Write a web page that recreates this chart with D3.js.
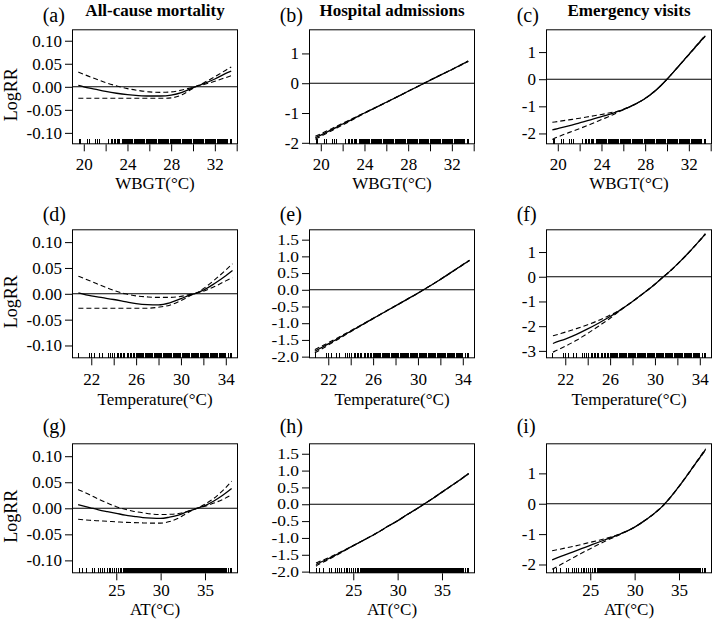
<!DOCTYPE html>
<html><head><meta charset="utf-8">
<script src="https://cdn.jsdelivr.net/npm/d3@7"></script>
<style>
body{margin:0;background:#fff}
svg{display:block}
text{font-family:"Liberation Serif","Times New Roman",serif;fill:#000}
</style>
</head><body>
<svg id="chart" width="714" height="623"></svg>
<script>
// ---------- titles / labels ----------
const colTitles = ["All-cause mortality", "Hospital admissions", "Emergency visits"];
const panelTags = ["(a)","(b)","(c)","(d)","(e)","(f)","(g)","(h)","(i)"];
const rowXTitles = ["WBGT(°C)", "Temperature(°C)", "AT(°C)"];

// ---------- x axes (per row) ----------
const rowXDomains = [[18.92, 34.12], [20.28, 35.09], [20.01, 38.72]];
const rowXTicks = [[20,22,24,26,28,30,32,34],[22,24,26,28,30,32,34],[25,30,35]];
const rowXLabels = [["20","","24","","28","","32",""],["22","","26","","30","","34"],["25","30","35"]];

// ---------- y axes ----------
const mortYTicks = [-0.10,-0.05,0,0.05,0.10];
const mortYLabels = ["-0.10","-0.05","0.00","0.05","0.10"];
const hospBYTicks = [-2,-1,0,1];
const hospBYLabels = ["-2","-1","0","1"];
const hospYTicks = [-2,-1.5,-1,-0.5,0,0.5,1,1.5];
const hospYLabels = ["-2.0","-1.5","-1.0","-0.5","0.0","0.5","1.0","1.5"];
const emerCYTicks = [-2,-1,0,1];
const emerCYLabels = ["-2","-1","0","1"];
const emerFYTicks = [-3,-2,-1,0,1];
const emerFYLabels = ["-3","-2","-1","0","1"];
const emerIYTicks = [-2,-1,0,1];
const emerIYLabels = ["-2","-1","0","1"];

// ---------- curves ----------
// (a) WBGT, all-cause mortality
const aX   = [19.5,20,21,22,23,24,25,26,27,28,29,30,30.2,31,32,33,33.5];
const aEst = [0.003,0.000,-0.005,-0.010,-0.014,-0.017,-0.019,-0.020,-0.020,-0.018,-0.012,-0.002,0,0.007,0.017,0.029,0.034];
const aHi  = [0.032,0.027,0.018,0.009,0.002,-0.004,-0.008,-0.011,-0.012,-0.011,-0.007,-0.001,0,0.009,0.022,0.036,0.043];
const aLo  = [-0.025,-0.025,-0.025,-0.025,-0.025,-0.025,-0.025,-0.025,-0.025,-0.024,-0.017,-0.003,0,0.005,0.012,0.020,0.024];
// (b) WBGT, hospital admissions
const bX   = [19.5,20,21,22,23,24,26,28,29.47,30,32,33.5];
const bEst = [-1.83,-1.74,-1.56,-1.37,-1.19,-1.00,-0.64,-0.27,0,0.10,0.46,0.74];
const bHi  = [-1.78,-1.695,-1.525,-1.34,-1.17,-0.99,-0.635,-0.267,0,0.103,0.465,0.748];
const bLo  = [-1.88,-1.785,-1.595,-1.40,-1.21,-1.01,-0.645,-0.273,0,0.097,0.455,0.732];
// (c) WBGT, emergency visits
const cX   = [19.5,20,21,22,23,24,25,25.5,26,27,28,29,30,31,32,33,33.5];
const cEst = [-1.87,-1.82,-1.72,-1.61,-1.50,-1.38,-1.26,-1.19,-1.12,-0.94,-0.71,-0.40,0,0.45,0.91,1.37,1.60];
const cHi  = [-1.59,-1.56,-1.50,-1.44,-1.37,-1.30,-1.22,-1.18,-1.11,-0.935,-0.705,-0.397,0,0.455,0.92,1.385,1.62];
const cLo  = [-2.22,-2.13,-1.97,-1.82,-1.66,-1.49,-1.32,-1.22,-1.13,-0.945,-0.715,-0.403,0,0.445,0.90,1.355,1.58];
// (d) Temperature, all-cause mortality
const dX   = [20.85,22,23,24,25,26,27,28,29,30,31,31.2,32,33,34,34.6];
const dEst = [0.002,-0.004,-0.0075,-0.011,-0.015,-0.019,-0.021,-0.0214,-0.0175,-0.0095,-0.001,0,0.007,0.020,0.035,0.045];
const dHi  = [0.034,0.024,0.015,0.0065,0.000,-0.004,-0.006,-0.007,-0.007,-0.005,-0.0005,0,0.010,0.027,0.046,0.058];
const dLo  = [-0.028,-0.028,-0.028,-0.028,-0.028,-0.028,-0.028,-0.026,-0.022,-0.013,-0.002,0,0.005,0.014,0.025,0.031];
// (e) Temperature, hospital admissions
const eX   = [20.8,22,24,26,28,30,30.5,32,34,34.6];
const eEst = [-1.84,-1.62,-1.24,-0.86,-0.48,-0.10,0,0.31,0.75,0.88];
const eHi  = [-1.79,-1.585,-1.225,-0.852,-0.476,-0.098,0,0.313,0.756,0.888];
const eLo  = [-1.89,-1.655,-1.255,-0.868,-0.484,-0.102,0,0.307,0.744,0.872];
// (f) Temperature, emergency visits
const fX   = [20.9,21,22,23,24,25,26,26.6,27,28,29,30,30.76,31,32,33,34,34.5];
const fEst = [-2.70,-2.68,-2.52,-2.33,-2.11,-1.87,-1.61,-1.44,-1.32,-1.00,-0.66,-0.30,0,0.09,0.51,0.97,1.47,1.73];
const fHi  = [-2.39,-2.38,-2.24,-2.10,-1.94,-1.76,-1.55,-1.42,-1.31,-0.995,-0.655,-0.297,0,0.093,0.515,0.978,1.48,1.745];
const fLo  = [-3.05,-3.03,-2.81,-2.57,-2.29,-1.99,-1.68,-1.47,-1.33,-1.005,-0.665,-0.303,0,0.087,0.505,0.962,1.46,1.715];
// (g) AT, all-cause mortality
const gX   = [20.7,22,23,24,25,26,27,28,29,30,31,32,33,34.1,35,36,37,38];
const gEst = [0.007,0.0015,-0.003,-0.0065,-0.0097,-0.013,-0.0155,-0.0178,-0.019,-0.0195,-0.017,-0.013,-0.0065,0,0.005,0.014,0.025,0.038];
const gHi  = [0.036,0.026,0.0175,0.010,0.003,-0.002,-0.006,-0.0085,-0.011,-0.012,-0.0115,-0.010,-0.006,0,0.008,0.019,0.034,0.052];
const gLo  = [-0.021,-0.023,-0.024,-0.025,-0.026,-0.027,-0.0275,-0.028,-0.0285,-0.0285,-0.0255,-0.019,-0.009,0,0.004,0.010,0.017,0.026];
// (h) AT, hospital admissions
const hX   = [20.8,21,22,23,24,25,26,27,28,29,30,31,32,32.95,34,35,36,37,38];
const hEst = [-1.79,-1.76,-1.64,-1.51,-1.37,-1.23,-1.09,-0.95,-0.80,-0.64,-0.49,-0.32,-0.16,0,0.18,0.36,0.54,0.72,0.91];
const hHi  = [-1.74,-1.72,-1.61,-1.49,-1.36,-1.225,-1.087,-0.948,-0.798,-0.639,-0.489,-0.319,-0.159,0,0.182,0.363,0.544,0.725,0.915];
const hLo  = [-1.84,-1.80,-1.67,-1.53,-1.38,-1.235,-1.093,-0.952,-0.802,-0.641,-0.491,-0.321,-0.161,0,0.178,0.357,0.536,0.715,0.905];
// (i) AT, emergency visits
const iX   = [20.7,22,23,24,25,26,27,28,29,30,31,32,33,33.4,34,35,36,37,38];
const iEst = [-1.85,-1.70,-1.59,-1.48,-1.37,-1.26,-1.15,-1.04,-0.92,-0.77,-0.58,-0.37,-0.12,0,0.20,0.57,0.97,1.38,1.79];
const iHi  = [-1.55,-1.47,-1.41,-1.34,-1.27,-1.20,-1.12,-1.03,-0.915,-0.767,-0.577,-0.367,-0.117,0,0.205,0.577,0.98,1.395,1.81];
const iLo  = [-2.16,-1.95,-1.79,-1.63,-1.48,-1.33,-1.19,-1.06,-0.925,-0.773,-0.583,-0.373,-0.123,0,0.195,0.563,0.96,1.365,1.77];

// ---------- rug (observed exposure values) ----------
const wbgtRug = [19.6,19.7,20.3,20.5,21.1,21.3,21.4,22.3,22.5,22.6,22.8,22.9,23.1,23.2,23.3,23.5,23.6,23.7,23.8,23.9,
 24.0,24.1,24.2,24.3,24.4,24.5,24.6,24.7,24.8,24.9,25.0,25.1,25.2,25.3,25.4,25.5,25.6,25.7,25.8,25.9,
 26.0,26.1,26.2,26.3,26.4,26.5,26.6,26.7,26.8,26.9,27.0,27.1,27.2,27.3,27.4,27.5,27.6,27.7,27.8,27.9,
 28.0,28.1,28.2,28.3,28.4,28.5,28.6,28.7,28.8,28.9,29.0,29.1,29.2,29.3,29.4,29.5,29.6,29.7,29.8,29.9,
 30.0,30.1,30.2,30.3,30.4,30.5,30.6,30.7,30.8,30.9,31.0,31.1,31.2,31.3,31.4,31.5,31.6,31.7,31.8,31.9,
 32.0,32.1,32.2,32.3,32.4,32.5,32.6,32.7,32.8,32.9,33.0,33.1,33.2,33.4,33.5];
const tempRug = [20.9,21.8,22.0,22.3,22.7,23.0,23.5,23.7,23.9,24.1,24.3,24.4,24.6,24.7,24.9,25.0,25.2,25.3,25.5,25.6,25.8,25.9,
 26.0,26.1,26.2,26.3,26.4,26.5,26.6,26.7,26.8,26.9,27.0,27.1,27.2,27.3,27.4,27.5,27.6,27.7,27.8,27.9,
 28.0,28.1,28.2,28.3,28.4,28.5,28.6,28.7,28.8,28.9,29.0,29.1,29.2,29.3,29.4,29.5,29.6,29.7,29.8,29.9,
 30.0,30.1,30.2,30.3,30.4,30.5,30.6,30.7,30.8,30.9,31.0,31.1,31.2,31.3,31.4,31.5,31.6,31.7,31.8,31.9,
 32.0,32.1,32.2,32.3,32.4,32.5,32.6,32.7,32.8,32.9,33.0,33.1,33.2,33.3,33.4,33.5,33.6,33.7,33.8,33.9,
 34.0,34.2,34.4,34.5];
const atRug = [20.8,21.2,21.6,22.3,22.6,23.0,23.2,23.5,23.7,24.0,24.2,24.4,24.6,24.8,25.0,25.2,25.3,25.5,25.6,25.8,25.9,
 26.0,26.1,26.2,26.3,26.4,26.5,26.6,26.7,26.8,26.9,27.0,27.1,27.2,27.3,27.4,27.5,27.6,27.7,27.8,27.9,
 28.0,28.1,28.2,28.3,28.4,28.5,28.6,28.7,28.8,28.9,29.0,29.1,29.2,29.3,29.4,29.5,29.6,29.7,29.8,29.9,
 30.0,30.1,30.2,30.3,30.4,30.5,30.6,30.7,30.8,30.9,31.0,31.1,31.2,31.3,31.4,31.5,31.6,31.7,31.8,31.9,
 32.0,32.1,32.2,32.3,32.4,32.5,32.6,32.7,32.8,32.9,33.0,33.1,33.2,33.3,33.4,33.5,33.6,33.7,33.8,33.9,
 34.0,34.1,34.2,34.3,34.4,34.5,34.6,34.7,34.8,34.9,35.0,35.1,35.2,35.3,35.4,35.5,35.6,35.7,35.8,35.9,
 36.0,36.1,36.2,36.3,36.4,36.5,36.6,36.7,36.8,36.9,37.0,37.1,37.2,37.3,37.4,37.6,37.9,38.0];
const rowRugs = [wbgtRug, tempRug, atRug];

// ---------- panel table built from arrays ----------
const panels = [
 {tag:0,row:0,col:0,x:aX,est:aEst,hi:aHi,lo:aLo,yd:[-0.1248,0.1248],yt:mortYTicks,yl:mortYLabels},
 {tag:1,row:0,col:1,x:bX,est:bEst,hi:bHi,lo:bLo,yd:[-2.05,1.81],yt:hospBYTicks,yl:hospBYLabels},
 {tag:2,row:0,col:2,x:cX,est:cEst,hi:cHi,lo:cLo,yd:[-2.40,1.84],yt:emerCYTicks,yl:emerCYLabels},
 {tag:3,row:1,col:0,x:dX,est:dEst,hi:dHi,lo:dLo,yd:[-0.1248,0.1248],yt:mortYTicks,yl:mortYLabels},
 {tag:4,row:1,col:1,x:eX,est:eEst,hi:eHi,lo:eLo,yd:[-2.05,1.81],yt:hospYTicks,yl:hospYLabels,small:true},
 {tag:5,row:1,col:2,x:fX,est:fEst,hi:fHi,lo:fLo,yd:[-3.30,1.92],yt:emerFYTicks,yl:emerFYLabels},
 {tag:6,row:2,col:0,x:gX,est:gEst,hi:gHi,lo:gLo,yd:[-0.1248,0.1248],yt:mortYTicks,yl:mortYLabels},
 {tag:7,row:2,col:1,x:hX,est:hEst,hi:hHi,lo:hLo,yd:[-2.05,1.81],yt:hospYTicks,yl:hospYLabels,small:true},
 {tag:8,row:2,col:2,x:iX,est:iEst,hi:iHi,lo:iLo,yd:[-2.29,1.99],yt:emerIYTicks,yl:emerIYLabels}
];

// ---------- layout ----------
const FONT = '"Liberation Serif","Times New Roman",serif';
const colLeft = [72, 309, 546], boxW = 166;
const rowTop = [29.3, 229.3, 443.3], rowH = [115, 129, 130];
const tagBase = [22, 221, 433];
const xTickBase = [170, 385.5, 596];
const xTitleBase = [189, 404.5, 615];
const tickLen = 7;

const svg = d3.select("#chart");
svg.append("rect").attr("width",714).attr("height",623).attr("fill","#fff");

panels.forEach(p => {
  const L = colLeft[p.col], T = rowTop[p.row], H = rowH[p.row];
  const x = d3.scaleLinear().domain(rowXDomains[p.row]).range([L, L + boxW]);
  const y = d3.scaleLinear().domain(p.yd).range([T + H, T]);
  const g = svg.append("g");

  const cid = "clip" + p.tag;
  svg.append("clipPath").attr("id", cid).append("rect")
    .attr("x", L).attr("y", T).attr("width", boxW).attr("height", H);

  // y axis
  const ya = g.append("g").attr("transform", `translate(${L},0)`)
    .call(d3.axisLeft(y).tickValues(p.yt).tickSize(tickLen).tickPadding(3)
      .tickFormat((d,i) => p.yl[i]));
  ya.select(".domain").remove();
  ya.selectAll("line").attr("stroke","#000").attr("stroke-width",1);
  const yt = ya.selectAll("text").style("font-family", FONT).attr("fill","#000");
  if (p.small) {
    yt.style("font-size","14.5px").attr("x", -10 / 1.2).attr("transform","scale(1.2,1)");
  } else {
    yt.style("font-size","17px");
  }

  // x axis
  const xa = g.append("g").attr("transform", `translate(0,${T + H})`)
    .call(d3.axisBottom(x).tickValues(rowXTicks[p.row]).tickSize(tickLen)
      .tickFormat((d,i) => rowXLabels[p.row][i]));
  xa.select(".domain").remove();
  xa.selectAll("line").attr("stroke","#000").attr("stroke-width",1);
  xa.selectAll("text").style("font-family", FONT).style("font-size","17px").attr("fill","#000")
    .attr("dy", null).attr("y", xTickBase[p.row] - (T + H));

  // reference line at 0
  g.append("line").attr("x1", L).attr("x2", L + boxW)
    .attr("y1", y(0)).attr("y2", y(0)).attr("stroke","#000").attr("stroke-width",1.1);

  // rug
  g.append("g").attr("clip-path", `url(#${cid})`).attr("shape-rendering","crispEdges")
    .selectAll("line")
    .data(rowRugs[p.row]).join("line")
    .attr("x1", d => x(d)).attr("x2", d => x(d))
    .attr("y1", T + H).attr("y2", T + H - 5)
    .attr("stroke","#000").attr("stroke-width",1);

  // curves
  const pts = key => p.x.map((v,i) => [v, p[key][i]]);
  const line = d3.line().x(d => x(d[0])).y(d => y(d[1])).curve(d3.curveMonotoneX);
  const cg = g.append("g").attr("clip-path", `url(#${cid})`).attr("fill","none").attr("stroke","#000");
  cg.append("path").attr("d", line(pts("hi"))).attr("stroke-width",1.1).attr("stroke-dasharray","5,3");
  cg.append("path").attr("d", line(pts("lo"))).attr("stroke-width",1.1).attr("stroke-dasharray","5,3");
  cg.append("path").attr("d", line(pts("est"))).attr("stroke-width",1.3);

  // box
  g.append("rect").attr("x", L + 0.5).attr("y", T + 0.5).attr("width", boxW - 1).attr("height", H - 1)
    .attr("fill","none").attr("stroke","#000").attr("stroke-width",1);

  // tag
  g.append("text").attr("x", L - 29.3).attr("y", tagBase[p.row])
    .style("font-family", FONT).style("font-size","20px").text(panelTags[p.tag]);

  // column title (top row)
  if (p.row === 0) {
    g.append("text").attr("x", L + boxW / 2).attr("y", 16).attr("text-anchor","middle")
      .style("font-family", FONT).style("font-size","17px").style("font-weight","bold").text(colTitles[p.col]);
  }

  // x title
  g.append("text").attr("x", L + boxW / 2).attr("y", xTitleBase[p.row]).attr("text-anchor","middle")
    .style("font-family", FONT).style("font-size","17px").text(rowXTitles[p.row]);

  // y title
  if (p.col === 0) {
    g.append("text").attr("transform", `translate(17,${T + H / 2 + 8}) rotate(-90)`)
      .attr("text-anchor","middle").style("font-family", FONT).style("font-size","18px").text("LogRR");
  }
});
</script>
</body></html>
